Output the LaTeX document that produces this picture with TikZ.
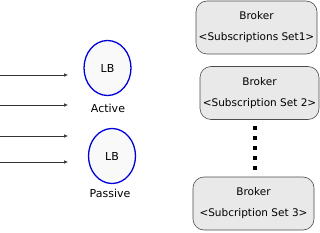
\documentclass[tikz,border=0pt]{standalone}
\usepackage{fontspec}
\setmainfont{DejaVu Sans}
\usetikzlibrary{shapes.geometric, arrows.meta, positioning}

\begin{document}
\begin{tikzpicture}[
    x=1pt, y=-1pt,
    lb/.style={ellipse, draw=blue!85!black, line width=1.3pt, fill=gray!5, minimum width=47pt, minimum height=55pt, inner sep=0pt, font=\fontsize{11}{13}\selectfont},
    lbname/.style={font=\fontsize{11}{13}\selectfont},
    broker/.style={rectangle, draw=gray!60!black, line width=0.6pt, fill=gray!17, rounded corners=11pt, minimum height=53pt, align=center, inner sep=0pt, font=\fontsize{10.5}{21}\selectfont},
    arrow/.style={-{Latex[length=4pt,width=3.5pt]}, draw=black!80, line width=0.5pt},
    dot/.style={rectangle, fill=black, minimum size=4pt, inner sep=0pt}
]
    \useasboundingbox (0,0) rectangle (320,232);

    % load balancers
    \node[lb] (active) at (107.5,68) {LB};
    \node[lbname] (activelbl) at (108,108) {Active};
    \node[lb] (passive) at (112,156) {LB};
    \node[lbname] (passivelbl) at (110,193) {Passive};

    % incoming requests
    \foreach \i/\y in {1/75, 2/105, 3/136, 4/162} {
        \coordinate (in\i) at (0,\y);
        \coordinate (to\i) at (68,\y);
        \draw[arrow] (in\i) -- (to\i);
    }

    % brokers
    \node[broker, minimum width=121pt] (broker1) at (256.5,27.5) {Broker\\<Subscriptions Set1>};
    \node[broker, minimum width=119pt] (broker2) at (259.5,93) {Broker\\<Subscription Set 2>};
    \node[broker, minimum width=121pt] (broker3) at (253.5,203.5) {Broker\\<Subcription Set 3>};

    \foreach \k/\y in {1/128, 2/138, 3/148, 4/158, 5/168}
        \node[dot] (dot\k) at (255,\y) {};
\end{tikzpicture}
\end{document}
